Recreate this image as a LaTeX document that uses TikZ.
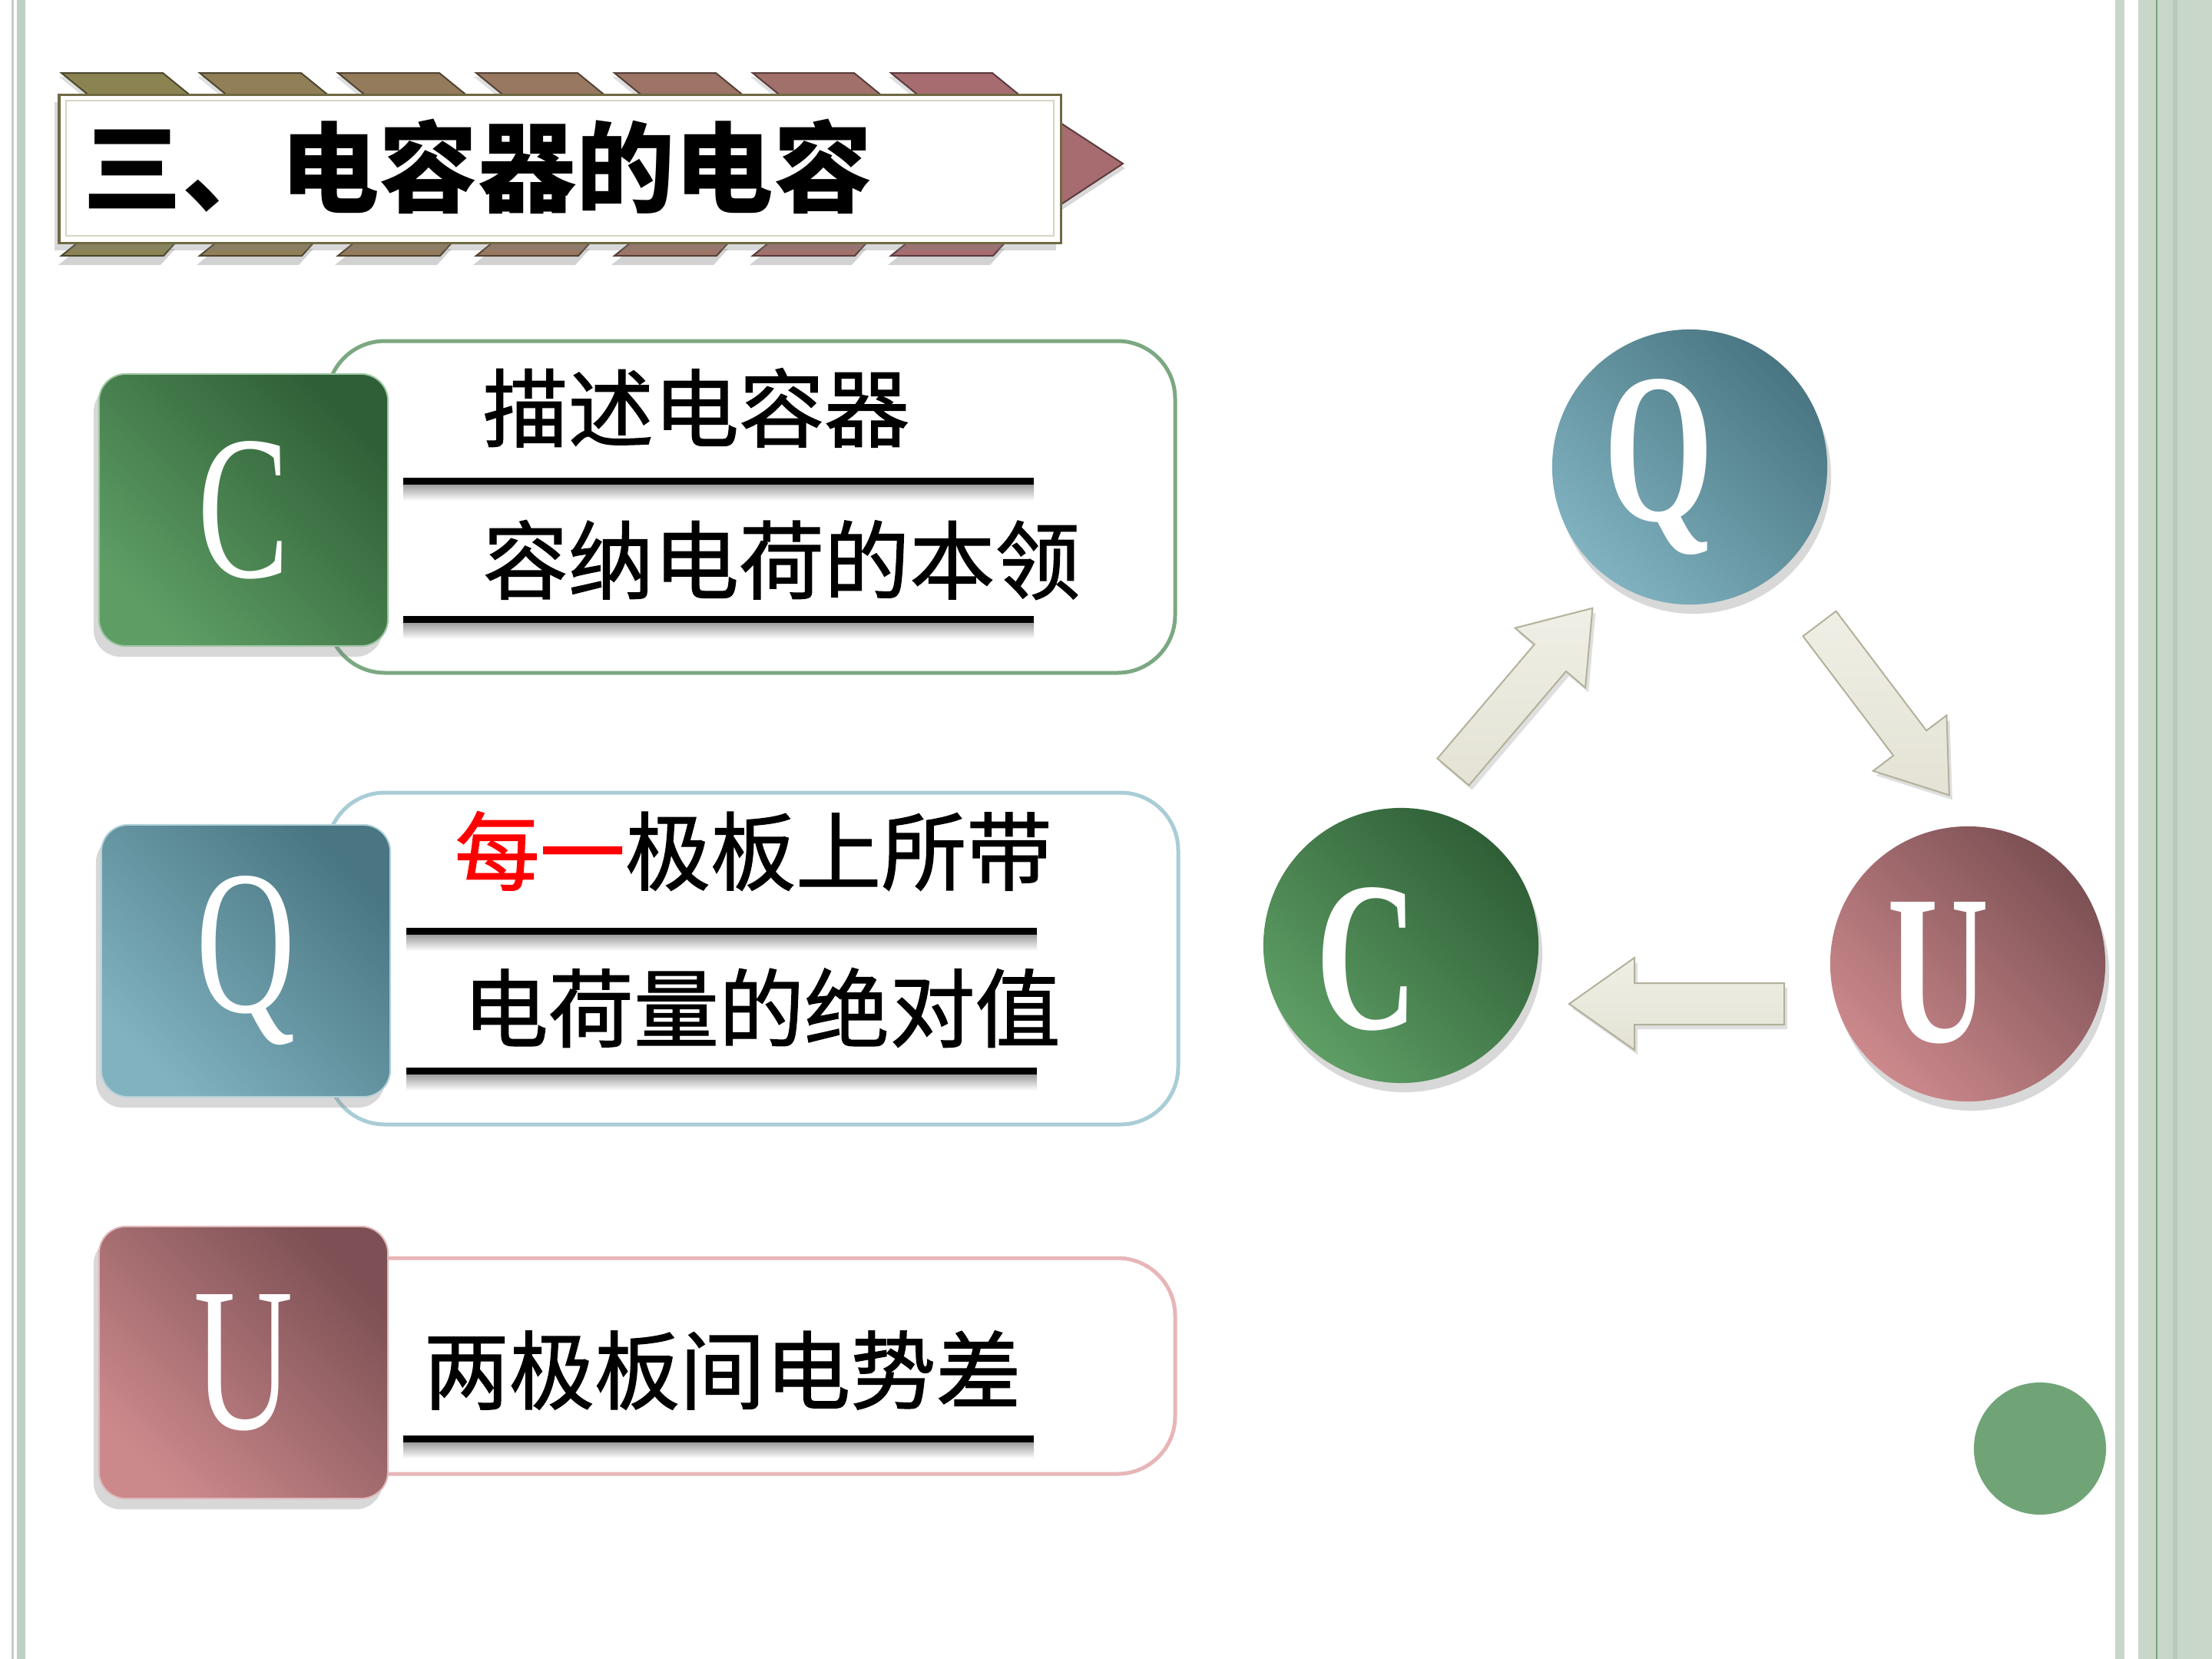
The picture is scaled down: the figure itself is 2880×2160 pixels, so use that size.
\documentclass[tikz,border=0pt]{standalone}
\usepackage{fontspec}
\setmainfont{Liberation Serif}
\newfontfamily\cjk{Noto Sans CJK SC}[FakeBold=1.2]
\newfontfamily\cjktitle{Noto Sans CJK SC}
\usetikzlibrary{shadows,calc}
\definecolor{bordL}{HTML}{BCD0C4}
\definecolor{bordR}{HTML}{C8D7CA}
\definecolor{bordD}{HTML}{B6CBBA}
\definecolor{bordG}{HTML}{76A67D}
\definecolor{olive}{HTML}{8B8352}
\definecolor{rose}{HTML}{A66C70}
\definecolor{gC1}{HTML}{2F5F36}
\definecolor{gC2}{HTML}{5E9E65}
\definecolor{gQ1}{HTML}{4A7683}
\definecolor{gQ2}{HTML}{80B2BF}
\definecolor{gU1}{HTML}{7C5054}
\definecolor{gU2}{HTML}{CC898C}
\definecolor{oC}{HTML}{7BA882}
\definecolor{oQ}{HTML}{A9CDD6}
\definecolor{oU}{HTML}{E8B6B8}
\definecolor{arrF}{HTML}{ECEBDF}
\definecolor{arrD}{HTML}{B3B19B}
\definecolor{dotG}{HTML}{70A477}
\begin{document}
\begin{tikzpicture}[x=0.01cm,y=-0.01cm,
  cjkt/.style={font=\cjk\fontsize{31.6pt}{36pt}\selectfont, anchor=west, inner sep=0pt},
  lbox/.style={rounded corners=0.35cm, minimum width=3.76cm, minimum height=3.54cm,
     text=white, inner sep=0pt, font=\fontsize{76pt}{80pt}\selectfont,
     drop shadow={shadow xshift=-0.07cm, shadow yshift=-0.14cm, opacity=0.3}},
  circ/.style={circle, minimum size=3.58cm, inner sep=0pt,
     drop shadow={shadow xshift=0.05cm, shadow yshift=-0.12cm, opacity=0.3}},
  cletter/.style={text=white, inner sep=0pt, font=\bfseries\fontsize{79pt}{82pt}\selectfont},
  shC/.style={shading=axis, top color=gC1, bottom color=gC2, shading angle=-45},
  shQ/.style={shading=axis, top color=gQ1, bottom color=gQ2, shading angle=-45},
  shU/.style={shading=axis, top color=gU1, bottom color=gU2, shading angle=-45},
  outl/.style={line width=0.05cm, rounded corners=0.75cm, fill=white},
  uline/.style={line width=0.09cm},
  ushadow/.style={top color=black!40, bottom color=white, draw=none},
  arrowsty/.style={draw=arrD, line width=0.02cm, top color=arrF!80!white, bottom color=arrF!85!arrD, 
     drop shadow={shadow xshift=0.04cm, shadow yshift=-0.06cm, opacity=0.25}},
  barrow/.pic={\path[arrowsty] (0,-27)--(195,-27)--(195,-60)--(280,0)--(195,60)--(195,27)--(0,27)--cycle;}
]
\useasboundingbox (0,0) rectangle (2880,2160);
\fill[white] (0,0) rectangle (2880,2160);
% borders
\fill[bordL] (15,0) rectangle (18,2160);
\fill[bordL] (22,0) rectangle (33,2160);
\fill[bordR] (2754,0) rectangle (2766,2160);
\fill[bordR] (2784,0) rectangle (2880,2160);
\fill[bordD] (2829,0) rectangle (2835,2160);
\fill[bordG] (2807,0) rectangle (2809,2160);
% title chevrons
\foreach \i in {0,...,6}{
  \pgfmathsetmacro\p{100*\i/6}
  \colorlet{sc}{rose!\p!olive}
  \filldraw[fill=sc, draw=sc!55!black, line width=0.02cm,
     drop shadow={shadow xshift=-0.03cm, shadow yshift=-0.05cm, opacity=0.25}]
     ({80+180*\i},95)--({212+180*\i},95)--({250+180*\i},126)--({118+180*\i},126)--cycle;
  \filldraw[fill=sc, draw=sc!55!black, line width=0.02cm,
     drop shadow={shadow xshift=-0.04cm, shadow yshift=-0.12cm, opacity=0.35}]
     ({106+180*\i},312)--({232+180*\i},312)--({213+180*\i},333)--({80+180*\i},333)--cycle;
}
\filldraw[fill=rose, draw=rose!55!black, line width=0.02cm,
  drop shadow={shadow xshift=0.03cm, shadow yshift=-0.06cm, opacity=0.3}]
  (1330,127)--(1462,213)--(1330,300)--cycle;
\draw[draw=olive!80!black, line width=0.03cm, fill=white,
  drop shadow={shadow xshift=-0.06cm, shadow yshift=-0.1cm, opacity=0.3}]
  (77,123) rectangle (1381,316);
\draw[olive!35, line width=0.02cm] (86,131) rectangle (1372,307);
\node[anchor=west, inner sep=0pt, font=\cjktitle\bfseries\fontsize{36.5pt}{40pt}\selectfont] (title) at (108,217) {三、电容器的电容};
% C block
\draw[outl, draw=oC] (426,444) rectangle (1530,876);
\node[lbox, shC, draw=gC2!60!white, line width=0.02cm] (bC) at (317,664) {\scalebox{0.67}[1]{C}};
\shade[ushadow] (525,630) rectangle (1346,652);
\draw[uline] (525,626) -- (1346,626);
\shade[ushadow] (525,810) rectangle (1346,832);
\draw[uline] (525,806) -- (1346,806);
\node[cjkt] (t1) at (628,531) {描述电容器};
\node[cjkt] (t2) at (628,729) {容纳电荷的本领};
% Q block
\draw[outl, draw=oQ] (426,1032) rectangle (1534,1464);
\node[lbox, shQ, draw=gQ2!60!white, line width=0.02cm] (bQ) at (320,1251) {\scalebox{0.67}[1]{Q}};
\shade[ushadow] (529,1216) rectangle (1350,1238);
\draw[uline] (529,1212) -- (1350,1212);
\shade[ushadow] (529,1398) rectangle (1350,1420);
\draw[uline] (529,1394) -- (1350,1394);
\node[cjkt] (t3) at (591,1108) {\textcolor{red}{每一}极板上所带};
\node[cjkt] (t4) at (602,1312) {电荷量的绝对值};
% U block
\draw[outl, draw=oU] (430,1638) rectangle (1530,1919);
\node[lbox, shU, draw=gU2!60!white, line width=0.02cm] (bU) at (317,1774) {\scalebox{0.67}[1]{U}};
\shade[ushadow] (525,1877) rectangle (1346,1899);
\draw[uline] (525,1873) -- (1346,1873);
\node[cjkt] (t5) at (551,1784) {两极板间电势差};
% circles
\node[circ, shQ] (cQ) at (2200,608) {};
\node[circ, shC] (cC) at (1824,1231) {};
\node[circ, shU] (cU) at (2562,1255) {};
\node[cletter] (lQ) at ($(cQ.center)+(-40,0)$) {\scalebox{0.66}[1]{Q}};
\node[cletter] (lC) at ($(cC.center)+(-44,18)$) {\scalebox{0.66}[1]{C}};
\node[cletter] (lU) at ($(cU.center)+(-38,12)$) {\scalebox{0.66}[1]{U}};
% block arrows
\pic[rotate=49.6] at (1892,1005) {barrow};
\pic[rotate=-52.9] at (2369,812) {barrow};
\pic[rotate=180] at (2323,1307) {barrow};
% small dot
\fill[dotG] (2656,1886) circle[radius=0.86cm];
\end{tikzpicture}
\end{document}
